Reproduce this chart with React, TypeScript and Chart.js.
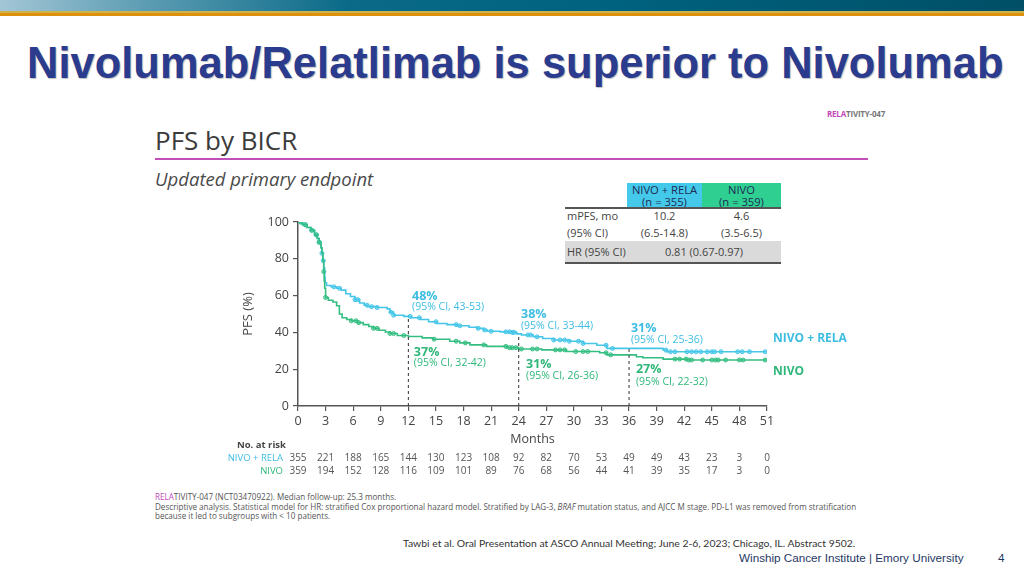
import React, { useEffect, useRef } from "react";
import { Chart, registerables } from "chart.js";

Chart.register(...registerables);

// ---------- data ----------
const relaMonths = [0, 0.5, 1.0, 1.4, 1.8, 2.1, 2.3, 2.5, 2.6, 2.7, 2.8, 2.9, 2.95, 3.1, 3.6, 4.2, 4.7, 5.2, 5.7, 6.2, 6.7, 7.2, 7.6, 8.6, 9.7, 10.0, 10.4, 11.5, 12.3, 13.3, 14.2, 15.1, 16.2, 17.3, 18.6, 19.5, 20.2, 20.6, 22.0, 23.1, 23.8, 24.3, 25.6, 26.6, 27.8, 29.5, 31.0, 32.5, 33.6, 39.7, 40.1, 51];
const relaPfs = [100, 98.5, 97, 95.5, 93, 91, 89, 86, 83, 79, 75, 70, 67, 65.5, 64.8, 64, 63, 61, 59.5, 57.8, 56, 54.8, 54, 53.5, 52.8, 51, 49.3, 48.7, 48, 47, 45.8, 44.8, 44.2, 43.6, 42.8, 42.2, 41.3, 40.6, 40.3, 40, 39.2, 38.6, 37.6, 36.7, 35.9, 35.2, 34, 33, 31.3, 30.4, 29.5, 29.5];

const nivoMonths = [0, 0.5, 1.0, 1.4, 1.8, 2.1, 2.3, 2.5, 2.6, 2.7, 2.8, 2.85, 2.9, 3.0, 3.3, 3.8, 4.2, 4.5, 4.8, 5.3, 5.8, 6.5, 7.1, 7.7, 8.2, 8.8, 9.5, 10.0, 10.8, 12.0, 13.5, 14.7, 16.5, 17.6, 18.7, 20.5, 22.7, 24.0, 26.5, 29.2, 32.8, 33.6, 36.8, 37.5, 39.7, 42.3, 51];
const nivoPfs = [100, 98.5, 97, 95.5, 93, 91, 89, 86, 83, 79, 73, 68, 64, 59, 57.5, 56.5, 54.5, 50, 48, 47, 46.3, 45.3, 44.2, 43.2, 42.2, 41.2, 40.2, 39.4, 38.3, 37.8, 37, 36.3, 35.2, 34.3, 33.2, 32.4, 31.7, 31, 30.5, 29.6, 28.9, 27.8, 26.8, 26.2, 25.5, 25, 25];

const relaCensor = [0.3, 0.8, 1.5, 2.0, 2.3, 2.6, 2.75, 3.9, 4.5, 6.2, 6.5, 7.5, 8.0, 8.6, 10.1, 10.4, 12.2, 13.2, 15.0, 17.2, 17.6, 19.6, 20.3, 21.0, 22.6, 23.0, 23.3, 23.5, 25.0, 25.3, 26.0, 27.8, 28.5, 29.0, 29.5, 30.5, 31.0, 33.5, 34.2, 40.0, 40.5, 41.0, 42.3, 42.8, 43.3, 43.8, 44.5, 45.0, 45.3, 46.0, 47.8, 48.3, 49.1, 50.8];
const nivoCensor = [0.3, 0.8, 1.5, 2.0, 2.3, 2.8, 3.0, 5.8, 6.3, 6.6, 8.2, 8.6, 10.0, 10.4, 11.5, 14.8, 17.2, 18.2, 20.2, 22.6, 23.0, 23.3, 23.7, 24.3, 25.5, 26.0, 28.0, 28.5, 29.0, 30.2, 31.0, 31.5, 33.5, 34.0, 41.0, 41.5, 42.2, 42.5, 42.8, 44.0, 45.0, 45.4, 45.7, 46.5, 48.0, 48.4, 50.8];

const riskMonths = [0, 3, 6, 9, 12, 15, 18, 21, 24, 27, 30, 33, 36, 39, 42, 45, 48, 51];
const riskRela = [355, 221, 188, 165, 144, 130, 123, 108, 92, 82, 70, 53, 49, 49, 43, 23, 3, 0];
const riskNivo = [359, 194, 152, 128, 116, 109, 101, 89, 76, 68, 56, 44, 41, 39, 35, 17, 3, 0];

const landmarkMonths = [12, 24, 36];
const landmarkRela = [48, 38, 31];
const relaPct = ["48%", "38%", "31%"];
const relaCI = ["(95% CI, 43-53)", "(95% CI, 33-44)", "(95% CI, 25-36)"];
const nivoPct = ["37%", "31%", "27%"];
const nivoCI = ["(95% CI, 32-42)", "(95% CI, 26-36)", "(95% CI, 22-32)"];

// ---------- styles ----------
const CYAN = "#45c6e8";
const CYAN_TXT = "#3dbde2";
const GREEN = "#34be82";
const GREEN_TXT = "#2fb77a";
const FONT = "'Open Sans', 'DejaVu Sans', sans-serif";

// label anchors in data coordinates (layout only)
const relaLabelPos = [[12.4, 59.8, 53.8], [24.25, 50, 43.5], [36.2, 42.4, 35.9]];
const nivoLabelPos = [[12.6, 29.3, 23.4], [24.8, 22.8, 16.3], [36.75, 19.6, 13.0]];

function stepValue(times: number[], vals: number[], t: number) {
  let v = vals[0];
  for (let i = 0; i < times.length; i++) {
    if (times[i] <= t) v = vals[i];
    else break;
  }
  return v;
}

const overlayPlugin = {
  id: "overlay",
  afterDraw(chart: any) {
    const { ctx } = chart;
    const x = chart.scales.x;
    const y = chart.scales.y;
    ctx.save();
    ctx.textBaseline = "middle";
    ctx.textAlign = "left";
    for (let i = 0; i < 3; i++) {
      const [rx, ry1, ry2] = relaLabelPos[i];
      ctx.fillStyle = CYAN_TXT;
      ctx.font = `bold 12.5px ${FONT}`;
      ctx.fillText(relaPct[i], x.getPixelForValue(rx), y.getPixelForValue(ry1));
      ctx.font = `10.5px ${FONT}`;
      ctx.fillText(relaCI[i], x.getPixelForValue(rx), y.getPixelForValue(ry2));
      const [nx, ny1, ny2] = nivoLabelPos[i];
      ctx.fillStyle = GREEN_TXT;
      ctx.font = `bold 12.5px ${FONT}`;
      ctx.fillText(nivoPct[i], x.getPixelForValue(nx), y.getPixelForValue(ny1));
      ctx.font = `10.5px ${FONT}`;
      ctx.fillText(nivoCI[i], x.getPixelForValue(nx), y.getPixelForValue(ny2));
    }
    ctx.font = `bold 12px ${FONT}`;
    ctx.fillStyle = CYAN_TXT;
    ctx.fillText("NIVO + RELA", x.getPixelForValue(51.65), y.getPixelForValue(36.4));
    ctx.fillStyle = GREEN_TXT;
    ctx.fillText("NIVO", x.getPixelForValue(51.65), y.getPixelForValue(18.5));

    const base = y.bottom;
    // x-axis title
    ctx.textAlign = "center";
    ctx.fillStyle = "#444";
    ctx.font = `12.5px ${FONT}`;
    ctx.fillText("Months", (x.left + x.right) / 2, base + 33);

    // risk table
    ctx.textAlign = "left";
    ctx.font = `bold 9.5px ${FONT}`;
    ctx.fillText("No. at risk", x.left - 61, base + 39);
    ctx.textAlign = "right";
    ctx.font = `9.5px ${FONT}`;
    ctx.fillStyle = CYAN_TXT;
    ctx.fillText("NIVO + RELA", x.left - 15, base + 52);
    ctx.fillStyle = GREEN_TXT;
    ctx.fillText("NIVO", x.left - 15, base + 65);
    ctx.textAlign = "center";
    ctx.fillStyle = "#555";
    ctx.font = `10px ${FONT}`;
    for (let i = 0; i < riskMonths.length; i++) {
      const px = x.getPixelForValue(riskMonths[i]);
      ctx.fillText(String(riskRela[i]), px, base + 52);
      ctx.fillText(String(riskNivo[i]), px, base + 65);
    }
    ctx.restore();
  },
};

function KMChart() {
  const ref = useRef<HTMLCanvasElement>(null);
  useEffect(() => {
    if (!ref.current) return;
    const relaLine = relaMonths.map((m, i) => ({ x: m, y: relaPfs[i] }));
    const nivoLine = nivoMonths.map((m, i) => ({ x: m, y: nivoPfs[i] }));
    const relaMarks = relaCensor.map((t) => ({ x: t, y: stepValue(relaMonths, relaPfs, t) }));
    const nivoMarks = nivoCensor.map((t) => ({ x: t, y: stepValue(nivoMonths, nivoPfs, t) }));
    const dashSets = landmarkMonths.map((m, i) => ({
      data: [{ x: m, y: 0 }, { x: m, y: landmarkRela[i] }],
      borderColor: "#333",
      borderWidth: 1,
      borderDash: [3, 3],
      pointRadius: 0,
      showLine: true,
    }));
    const chart = new Chart(ref.current, {
      type: "scatter",
      data: {
        datasets: [
          ...dashSets,
          { data: nivoLine, showLine: true, stepped: true, borderColor: GREEN, borderWidth: 1.6, pointRadius: 0 },
          { data: relaLine, showLine: true, stepped: true, borderColor: CYAN, borderWidth: 1.6, pointRadius: 0 },
          { data: nivoMarks, showLine: false, pointRadius: 2, pointBorderWidth: 1, pointBorderColor: GREEN, pointBackgroundColor: "rgba(52,190,130,0.45)" },
          { data: relaMarks, showLine: false, pointRadius: 2, pointBorderWidth: 1, pointBorderColor: CYAN, pointBackgroundColor: "rgba(69,198,232,0.45)" },
        ] as any,
      },
      options: {
        animation: false,
        responsive: false,
        maintainAspectRatio: false,
        events: [],
        layout: { padding: { left: 90, right: 133, top: 22, bottom: 34 } },
        plugins: { legend: { display: false }, tooltip: { enabled: false } },
        scales: {
          x: {
            type: "linear",
            min: 0,
            max: 51,
            afterFit: (s: any) => { s.height = 50; },
            ticks: { stepSize: 3, color: "#444", font: { family: FONT, size: 12.5 }, padding: 3, maxRotation: 0, autoSkip: false },
            grid: { display: true, drawOnChartArea: false, drawTicks: true, tickLength: 5, color: "#555", lineWidth: 1.2 },
            border: { display: true, color: "#555", width: 1.5 },
            title: { display: false },
          },
          y: {
            type: "linear",
            min: 0,
            max: 100,
            afterFit: (s: any) => { s.width = 58; },
            ticks: { stepSize: 20, color: "#444", font: { family: FONT, size: 12.5 }, padding: 4 },
            grid: { display: true, drawOnChartArea: false, drawTicks: true, tickLength: 5, color: "#555", lineWidth: 1.2 },
            border: { display: true, color: "#555", width: 1.5 },
            title: { display: true, text: "PFS (%)", color: "#444", font: { family: FONT, size: 13 }, padding: { top: 0, bottom: 0 } },
          },
        },
      } as any,
      plugins: [overlayPlugin],
    });
    return () => chart.destroy();
  }, []);
  return <canvas ref={ref} width={750} height={290} style={{ position: "absolute", left: 150, top: 200, width: 750, height: 290 }} />;
}

const abs = (left: number, top: number, extra: React.CSSProperties = {}): React.CSSProperties => ({
  position: "absolute",
  left,
  top,
  whiteSpace: "nowrap",
  ...extra,
});

export default function App() {
  const tblFont: React.CSSProperties = { fontFamily: FONT, fontSize: 11, color: "#444" };
  return (
    <div style={{ position: "fixed", left: 0, top: 0, width: 1024, height: 576, background: "#fff", overflow: "hidden", fontFamily: FONT }}>
      {/* top bar */}
      <div style={abs(0, 0, { width: 1024, height: 11, background: "linear-gradient(90deg, #a3c6d6 0%, #5d9db3 14%, #0a6a88 34%, #00627f 60%, #004f66 100%)" })} />
      <div style={abs(0, 11, { width: 1024, height: 2, background: "#cdb34a" })} />
      <div style={abs(0, 13, { width: 1024, height: 3, background: "#dc900c" })} />

      {/* title */}
      <div style={abs(27, 37, { fontFamily: "'Liberation Sans', Arial, sans-serif", fontWeight: "bold", fontSize: 43.5, lineHeight: "52px", color: "#2b3b8d", textShadow: "1px 1px 1px rgba(0,0,0,0.25)" })}>
        Nivolumab/Relatlimab is superior to Nivolumab
      </div>

      {/* small study tag */}
      <div style={abs(827, 109, { fontSize: 8, fontWeight: "bold", lineHeight: "10px", color: "#777", letterSpacing: -0.2 })}>
        <span style={{ color: "#c347b8" }}>RELA</span>TIVITY-047
      </div>

      <div style={abs(155, 123, { fontSize: 26, lineHeight: "34px", color: "#3b3b3b" })}>PFS by BICR</div>
      <div style={abs(155, 158, { width: 713, height: 2, background: "#c04fb8" })} />
      <div style={abs(155, 167, { fontSize: 18.5, fontStyle: "italic", lineHeight: "24px", color: "#4a4a4a" })}>Updated primary endpoint</div>

      {/* summary table */}
      <div style={abs(627, 183, { width: 75, height: 25, background: "#45c9ea" })} />
      <div style={abs(702, 183, { width: 79, height: 25, background: "#2fcf91" })} />
      <div style={abs(627, 184, { width: 75, textAlign: "center", fontSize: 11.2, lineHeight: "11.5px", color: "#1d2b55" })}>NIVO + RELA<br />(n = 355)</div>
      <div style={abs(702, 184, { width: 79, textAlign: "center", fontSize: 11.2, lineHeight: "11.5px", color: "#1d2b55" })}>NIVO<br />(n = 359)</div>
      <div style={abs(565, 207, { width: 216, height: 2, background: "#555" })} />
      <div style={abs(567, 208, { ...tblFont, lineHeight: "15px" })}>mPFS, mo</div>
      <div style={abs(627, 208, { ...tblFont, lineHeight: "15px", width: 75, textAlign: "center" })}>10.2</div>
      <div style={abs(702, 208, { ...tblFont, lineHeight: "15px", width: 79, textAlign: "center" })}>4.6</div>
      <div style={abs(567, 225, { ...tblFont, lineHeight: "15px" })}>(95% CI)</div>
      <div style={abs(627, 225, { ...tblFont, lineHeight: "15px", width: 75, textAlign: "center" })}>(6.5-14.8)</div>
      <div style={abs(702, 225, { ...tblFont, lineHeight: "15px", width: 79, textAlign: "center" })}>(3.5-6.5)</div>
      <div style={abs(565, 241, { width: 216, height: 21, background: "#dadada" })} />
      <div style={abs(567, 244, { ...tblFont, lineHeight: "15px" })}>HR (95% CI)</div>
      <div style={abs(627, 244, { ...tblFont, lineHeight: "15px", width: 154, textAlign: "center" })}>0.81 (0.67-0.97)</div>
      <div style={abs(565, 262, { width: 216, height: 2, background: "#555" })} />

      <KMChart />

      {/* footnotes */}
      <div style={abs(155, 492, { fontSize: 8.1, lineHeight: "9.6px", color: "#555" })}>
        <div><span style={{ color: "#c347b8" }}>RELA</span>TIVITY-047 (NCT03470922). Median follow-up: 25.3 months.</div>
        <div>Descriptive analysis. Statistical model for HR: stratified Cox proportional hazard model. Stratified by LAG-3, <i>BRAF</i> mutation status, and AJCC M stage. PD-L1 was removed from stratification</div>
        <div>because it led to subgroups with &lt; 10 patients.</div>
      </div>

      {/* footer */}
      <div style={abs(403, 536, { fontFamily: "Lato, 'Open Sans', sans-serif", fontSize: 10.4, lineHeight: "14px", color: "#333" })}>
        Tawbi et al. Oral Presentation at ASCO Annual Meeting; June 2-6, 2023; Chicago, IL. Abstract 9502.
      </div>
      <div style={abs(739, 551, { fontFamily: "'Liberation Sans', Arial, sans-serif", fontSize: 11.7, lineHeight: "14px", color: "#1f3864" })}>
        Winship Cancer Institute | Emory University
      </div>
      <div style={abs(998, 551, { fontFamily: "'Liberation Sans', Arial, sans-serif", fontSize: 11.7, lineHeight: "14px", color: "#1f3864" })}>4</div>
    </div>
  );
}
